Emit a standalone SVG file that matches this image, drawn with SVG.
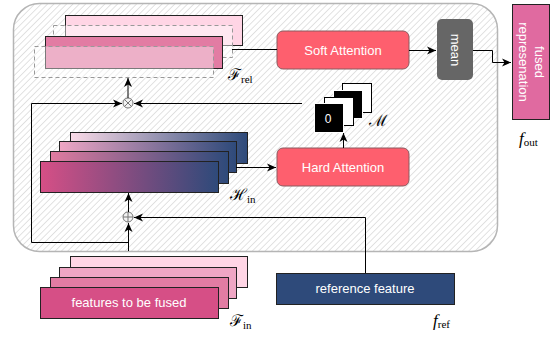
<svg xmlns="http://www.w3.org/2000/svg" width="557" height="337" viewBox="0 0 557 337">
<defs>
<pattern id="hatch" patternUnits="userSpaceOnUse" width="4.5" height="4.5" patternTransform="rotate(45)">
<rect width="4.5" height="4.5" fill="#ffffff"/>
<line x1="0" y1="0" x2="0" y2="4.5" stroke="#cfcfcf" stroke-width="1.2"/>
</pattern>
<linearGradient id="g1" x1="0" x2="1" y1="0" y2="0"><stop offset="0" stop-color="#d64f86"/><stop offset="1" stop-color="#2e4a7a"/></linearGradient>
<linearGradient id="g2" x1="0" x2="1" y1="0" y2="0"><stop offset="0" stop-color="#e07ba0"/><stop offset="1" stop-color="#2e4a7a"/></linearGradient>
<linearGradient id="g3" x1="0" x2="1" y1="0" y2="0"><stop offset="0" stop-color="#efa6c4"/><stop offset="1" stop-color="#2e4a7a"/></linearGradient>
<linearGradient id="g4" x1="0" x2="1" y1="0" y2="0"><stop offset="0" stop-color="#fbdbe8"/><stop offset="1" stop-color="#2e4a7a"/></linearGradient>
<marker id="arr" markerUnits="userSpaceOnUse" markerWidth="10" markerHeight="10" refX="9" refY="5" orient="auto">
<path d="M0,1 L9,5 L0,9 L2.5,5 Z" fill="#000"/>
</marker>
<style>
.blk{stroke:#222;stroke-width:1}
.lbl{font-family:"Liberation Sans",Arial,sans-serif;font-size:13px;fill:#fff;text-anchor:middle}
.math{font-family:"DejaVu Serif","Liberation Serif",serif;font-style:normal;font-size:16px;fill:#000}
.fi{font-family:"Liberation Serif",serif;font-style:italic;font-size:17px;fill:#000}
.sub{font-family:"Liberation Serif",serif;font-style:normal;font-size:11px}
.ln{fill:none;stroke:#000;stroke-width:1}
.dash{stroke:#999;stroke-width:1;stroke-dasharray:4 3}
.att{fill:#fe5f6e;stroke:#8a5a5f;stroke-width:1}
</style>
</defs>

<g id="container">
<rect x="13.5" y="3.5" width="484" height="248" rx="26" ry="26" fill="url(#hatch)" stroke="#b5b5b5" stroke-width="1.5"/>
</g>

<g id="F_rel">
<rect x="65.5" y="15.5" width="177" height="30" fill="#ffd5e5" class="blk"/>
<rect x="53.5" y="25.5" width="179" height="32" fill="#ffffff" fill-opacity="0.45" class="dash"/>
<rect x="45.5" y="36.5" width="177" height="32" fill="#e27ca3" class="blk"/>
<rect x="34.5" y="46.5" width="179" height="31" fill="#ffffff" fill-opacity="0.4" class="dash"/>
<text x="228" y="80" class="math">ℱ<tspan class="sub" dy="3">rel</tspan></text>
</g>

<g id="soft_attention">
<rect x="277" y="31" width="132" height="38" rx="6" ry="6" class="att"/>
<text x="343" y="55" class="lbl">Soft Attention</text>
</g>

<g id="mean">
<rect x="437" y="19" width="36" height="61" rx="5" ry="5" fill="#666666"/>
<text class="lbl" transform="translate(451,50) rotate(90)">mean</text>
</g>

<g id="fused">
<rect x="512.5" y="4.5" width="37" height="115" fill="#e06aa0" class="blk"/>
<text class="lbl" transform="translate(531,62) rotate(90)"><tspan x="0" y="-4">fused</tspan><tspan x="0" y="12">represenation</tspan></text>
<text x="519" y="144" class="fi">f<tspan class="sub" dy="2">out</tspan></text>
</g>

<g id="mask">
<rect x="342.5" y="83.5" width="29" height="29" fill="#fff" stroke="#000"/>
<rect x="333.5" y="90.5" width="29" height="28" fill="#000" stroke="#fff"/>
<rect x="324.5" y="97.5" width="29" height="28" fill="#fff" stroke="#000"/>
<rect x="314.5" y="103.5" width="29" height="29" fill="#000" stroke="#fff"/>
<text x="328" y="123" font-family="Liberation Sans, sans-serif" font-size="12" fill="#fff" text-anchor="middle">0</text>
<text x="369" y="126" class="math">ℳ</text>
</g>

<g id="hard_attention">
<rect x="277" y="148" width="132" height="38" rx="6" ry="6" class="att"/>
<text x="343" y="172" class="lbl">Hard Attention</text>
</g>

<g id="H_in">
<rect x="70.5" y="132.5" width="177" height="31" fill="url(#g4)" class="blk"/>
<rect x="59.5" y="141.5" width="177" height="31" fill="url(#g3)" class="blk"/>
<rect x="50.5" y="151.5" width="178" height="32" fill="url(#g2)" class="blk"/>
<rect x="40.5" y="161.5" width="178" height="31" fill="url(#g1)" class="blk"/>
<text x="230" y="200" class="math">ℋ<tspan class="sub" dy="3">in</tspan></text>
</g>

<g id="mult">
<circle cx="128" cy="103" r="5" fill="#f2f2f2" stroke="#777"/>
<path d="M124.5,99.5 L131.5,106.5 M131.5,99.5 L124.5,106.5" stroke="#777" stroke-width="1"/>
</g>

<g id="add">
<circle cx="128" cy="217" r="5" fill="#f2f2f2" stroke="#777"/>
<path d="M123,217 L133,217 M128,212 L128,222" stroke="#777" stroke-width="1"/>
</g>

<g id="F_in">
<rect x="70.5" y="256.5" width="177" height="31" fill="#ffd5e5" class="blk"/>
<rect x="59.5" y="267.5" width="177" height="31" fill="#efa6c4" class="blk"/>
<rect x="50.5" y="277.5" width="178" height="31" fill="#e27ca3" class="blk"/>
<rect x="40.5" y="287.5" width="178" height="31" fill="#d64f86" class="blk"/>
<text x="129" y="307" class="lbl">features to be fused</text>
<text x="230" y="326" class="math">ℱ<tspan class="sub" dy="3">in</tspan></text>
</g>

<g id="reference">
<rect x="276.5" y="273.5" width="178" height="31" fill="#2e4a7a" class="blk"/>
<text x="365" y="293" class="lbl" fill="#e8ecf4">reference feature</text>
<text x="433" y="326" class="fi">f<tspan class="sub" dy="2">ref</tspan></text>
</g>

<g id="connectors">
<path d="M232,49.5 L277,49.5" class="ln" stroke="#444"/>
<path d="M409,50.5 L436,50.5" class="ln" marker-end="url(#arr)"/>
<path d="M473,50.5 L492.5,50.5 L492.5,62.5 L511,62.5" class="ln" marker-end="url(#arr)"/>
<path d="M128,98 L128,78" class="ln" marker-end="url(#arr)"/>
<path d="M31.5,242.5 L31.5,103.5 L122,103.5" class="ln" marker-end="url(#arr)"/>
<path d="M302,103.5 L134,103.5" class="ln" marker-end="url(#arr)"/>
<path d="M236,167.5 L276,167.5" class="ln" marker-end="url(#arr)"/>
<path d="M343.5,148 L343.5,133" class="ln" marker-end="url(#arr)"/>
<path d="M128.5,251 L128.5,223" class="ln" marker-end="url(#arr)"/>
<path d="M31.5,242.5 L128.5,242.5" class="ln"/>
<path d="M128.5,212 L128.5,193" class="ln" marker-end="url(#arr)"/>
<path d="M365.5,273 L365.5,217.5 L134,217.5" class="ln" stroke="#333" marker-end="url(#arr)"/>
</g>
</svg>
